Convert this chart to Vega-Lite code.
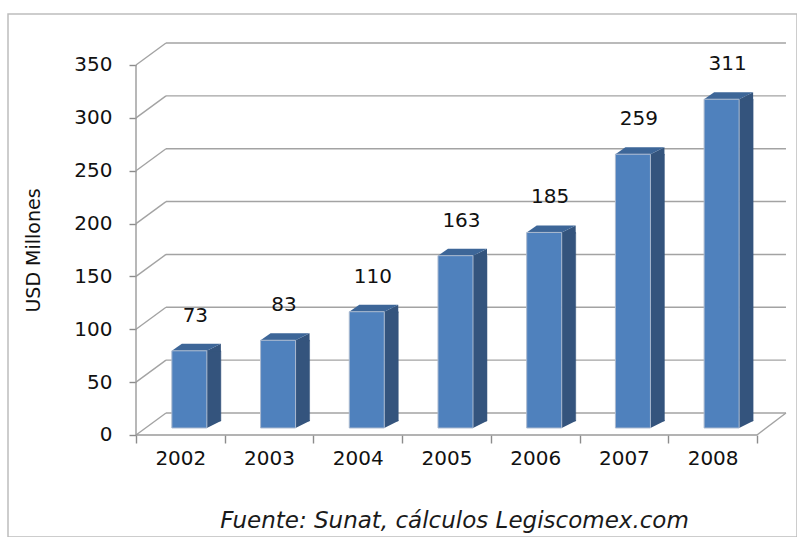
{
  "$schema": "https://vega.github.io/schema/vega-lite/v6.json",
  "width": 789,
  "height": 523,
  "autosize": {"type": "none"},
  "padding": {"left": 8, "top": 14, "right": 0, "bottom": 0},
  "background": "white",
  "config": {
    "view": {"stroke": "#bdbdbd", "strokeWidth": 1.5},
    "font": "DejaVu Sans",
    "text": {"font": "DejaVu Sans"}
  },
  "title": {
    "text": "Fuente: Sunat, cálculos Legiscomex.com",
    "orient": "bottom",
    "offset": -27,
    "anchor": "middle",
    "frame": "group",
    "dx": 52,
    "fontSize": 23,
    "fontStyle": "italic",
    "fontWeight": "normal",
    "font": "DejaVu Sans",
    "color": "#1a1a1a"
  },
  "datasets": {
    "bars": [
      {"year": 2002, "value": 73},
      {"year": 2003, "value": 83},
      {"year": 2004, "value": 110},
      {"year": 2005, "value": 163},
      {"year": 2006, "value": 185},
      {"year": 2007, "value": 259},
      {"year": 2008, "value": 311}
    ],
    "grid": [
      {"v": 0}, {"v": 50}, {"v": 100}, {"v": 150},
      {"v": 200}, {"v": 250}, {"v": 300}, {"v": 350}
    ]
  },
  "layer": [
    {
      "data": {"name": "bars"},
      "mark": {"type": "rect", "color": "#4f81bd", "opacity": 0},
      "encoding": {
        "x": {
          "field": "year", "type": "quantitative",
          "scale": {"domain": [2000.0571, 2008.9512], "nice": false, "zero": false},
          "axis": {
            "orient": "bottom", "offset": -102,
            "values": [2001.5, 2002.5, 2003.5, 2004.5, 2005.5, 2006.5, 2007.5, 2008.5],
            "labelExpr": "datum.value < 2008 ? format(datum.value + 0.5, 'd') : ''",
            "labelOffset": 44.35,
            "domain": false, "grid": false,
            "tickSize": 8, "tickColor": "#8c8c8c", "tickWidth": 1.4,
            "labelFontSize": 20, "labelColor": "#111111", "labelFont": "DejaVu Sans",
            "labelPadding": 5, "labelOverlap": false, "labelBound": false, "labelFlush": false,
            "title": null
          }
        },
        "x2": {"field": "year"},
        "y": {
          "field": "value", "type": "quantitative",
          "scale": {"domain": [-96.49, 398.24], "nice": false, "zero": false},
          "axis": {
            "orient": "left", "offset": -128,
            "values": [0, 50, 100, 150, 200, 250, 300, 350],
            "domain": false, "grid": false,
            "tickSize": 7, "tickColor": "#8c8c8c", "tickWidth": 1.4,
            "labelFontSize": 20, "labelColor": "#111111", "labelFont": "DejaVu Sans",
            "labelPadding": 17, "labelOverlap": false, "labelBound": false, "labelFlush": false,
            "title": "USD Millones",
            "titleFontSize": 19, "titleFontWeight": "normal", "titleFont": "DejaVu Sans",
            "titleColor": "#111111", "titlePadding": 30, "titleY": 236
          }
        },
        "y2": {"datum": 0}
      }
    },
    {
      "data": {"name": "grid"},
      "mark": {"type": "rule", "color": "#a3a3a3", "strokeWidth": 1.4, "xOffset": 30, "x2Offset": 29, "yOffset": -22, "y2Offset": -22},
      "encoding": {
        "x": {"datum": 2001.5, "type": "quantitative", "scale": {"domain": [2000.0571, 2008.9512], "nice": false, "zero": false}},
        "x2": {"datum": 2008.5},
        "y": {"field": "v", "type": "quantitative", "scale": {"domain": [-96.49, 398.24], "nice": false, "zero": false}},
        "y2": {"field": "v"}
      }
    },
    {
      "data": {"name": "grid"},
      "mark": {"type": "rule", "color": "#a3a3a3", "strokeWidth": 1.4, "x2Offset": 30, "y2Offset": -22},
      "encoding": {
        "x": {"datum": 2001.5, "type": "quantitative", "scale": {"domain": [2000.0571, 2008.9512], "nice": false, "zero": false}},
        "x2": {"datum": 2001.5},
        "y": {"field": "v", "type": "quantitative", "scale": {"domain": [-96.49, 398.24], "nice": false, "zero": false}},
        "y2": {"field": "v"}
      }
    },
    {
      "data": {"name": "grid"},
      "transform": [{"filter": "datum.v == 0"}],
      "mark": {"type": "rule", "color": "#a3a3a3", "strokeWidth": 1.4, "x2Offset": 29, "y2Offset": -22},
      "encoding": {
        "x": {"datum": 2008.5, "type": "quantitative", "scale": {"domain": [2000.0571, 2008.9512], "nice": false, "zero": false}},
        "x2": {"datum": 2008.5},
        "y": {"field": "v", "type": "quantitative", "scale": {"domain": [-96.49, 398.24], "nice": false, "zero": false}},
        "y2": {"field": "v"}
      }
    },
    {
      "data": {"name": "grid"},
      "transform": [{"filter": "datum.v == 0"}],
      "mark": {"type": "rule", "color": "#9a9a9a", "strokeWidth": 1.4},
      "encoding": {
        "x": {"datum": 2001.5, "type": "quantitative", "scale": {"domain": [2000.0571, 2008.9512], "nice": false, "zero": false}},
        "x2": {"datum": 2008.5},
        "y": {"field": "v", "type": "quantitative", "scale": {"domain": [-96.49, 398.24], "nice": false, "zero": false}},
        "y2": {"field": "v"}
      }
    },
    {
      "data": {"name": "grid"},
      "transform": [{"filter": "datum.v == 350"}],
      "mark": {"type": "rule", "color": "#9a9a9a", "strokeWidth": 1.4},
      "encoding": {
        "x": {"datum": 2001.5, "type": "quantitative", "scale": {"domain": [2000.0571, 2008.9512], "nice": false, "zero": false}},
        "x2": {"datum": 2001.5},
        "y": {"field": "v", "type": "quantitative", "scale": {"domain": [-96.49, 398.24], "nice": false, "zero": false}},
        "y2": {"datum": 0}
      }
    },
    {
      "data": {"name": "bars"},
      "mark": {"type": "rect", "color": "#34547d", "stroke": "#34547d", "strokeWidth": 0.5, "xOffset": 26.5, "x2Offset": 40.5, "yOffset": -7, "y2Offset": -14},
      "encoding": {
        "x": {"field": "year", "type": "quantitative", "scale": {"domain": [2000.0571, 2008.9512], "nice": false, "zero": false}},
        "x2": {"field": "year"},
        "y": {"field": "value", "type": "quantitative", "scale": {"domain": [-96.49, 398.24], "nice": false, "zero": false}},
        "y2": {"datum": 0}
      }
    },
    {
      "data": {"name": "bars"},
      "mark": {"type": "point", "shape": "M 26.5 -7 L 40.5 -14 L 40.5 -6 L 26.5 -6 Z", "size": 4, "filled": true, "color": "#34547d", "opacity": 1, "strokeWidth": 0},
      "encoding": {
        "x": {"field": "year", "type": "quantitative", "scale": {"domain": [2000.0571, 2008.9512], "nice": false, "zero": false}},
        "y": {"field": "value", "type": "quantitative", "scale": {"domain": [-96.49, 398.24], "nice": false, "zero": false}}
      }
    },
    {
      "data": {"name": "bars"},
      "mark": {"type": "point", "shape": "M 26.5 -15 L 40.5 -15 L 40.5 -14 L 26.5 -7 Z", "size": 4, "filled": true, "color": "#34547d", "opacity": 1, "strokeWidth": 0},
      "encoding": {
        "x": {"field": "year", "type": "quantitative", "scale": {"domain": [2000.0571, 2008.9512], "nice": false, "zero": false}},
        "y": {"datum": 0, "type": "quantitative", "scale": {"domain": [-96.49, 398.24], "nice": false, "zero": false}}
      }
    },
    {
      "data": {"name": "bars"},
      "mark": {"type": "point", "shape": "M -8.5 -7 L 26.5 -7 L 40.5 -14 L 1.5 -14 Z", "size": 4, "filled": true, "color": "#3d6698", "opacity": 1, "strokeWidth": 0},
      "encoding": {
        "x": {"field": "year", "type": "quantitative", "scale": {"domain": [2000.0571, 2008.9512], "nice": false, "zero": false}},
        "y": {"field": "value", "type": "quantitative", "scale": {"domain": [-96.49, 398.24], "nice": false, "zero": false}}
      }
    },
    {
      "data": {"name": "bars"},
      "mark": {"type": "rect", "color": "#4f81bd", "stroke": "#aab9cf", "strokeWidth": 1, "xOffset": -8.5, "x2Offset": 26.5, "yOffset": -7, "y2Offset": -7},
      "encoding": {
        "x": {"field": "year", "type": "quantitative", "scale": {"domain": [2000.0571, 2008.9512], "nice": false, "zero": false}},
        "x2": {"field": "year"},
        "y": {"field": "value", "type": "quantitative", "scale": {"domain": [-96.49, 398.24], "nice": false, "zero": false}},
        "y2": {"datum": 0}
      }
    },
    {
      "data": {"name": "bars"},
      "mark": {"type": "text", "fontSize": 20, "font": "DejaVu Sans", "color": "#111111", "dx": 15, "dy": -42, "baseline": "middle", "align": "center"},
      "encoding": {
        "x": {"field": "year", "type": "quantitative", "scale": {"domain": [2000.0571, 2008.9512], "nice": false, "zero": false}},
        "y": {"field": "value", "type": "quantitative", "scale": {"domain": [-96.49, 398.24], "nice": false, "zero": false}},
        "text": {"field": "value", "type": "quantitative"}
      }
    }
  ]
}
